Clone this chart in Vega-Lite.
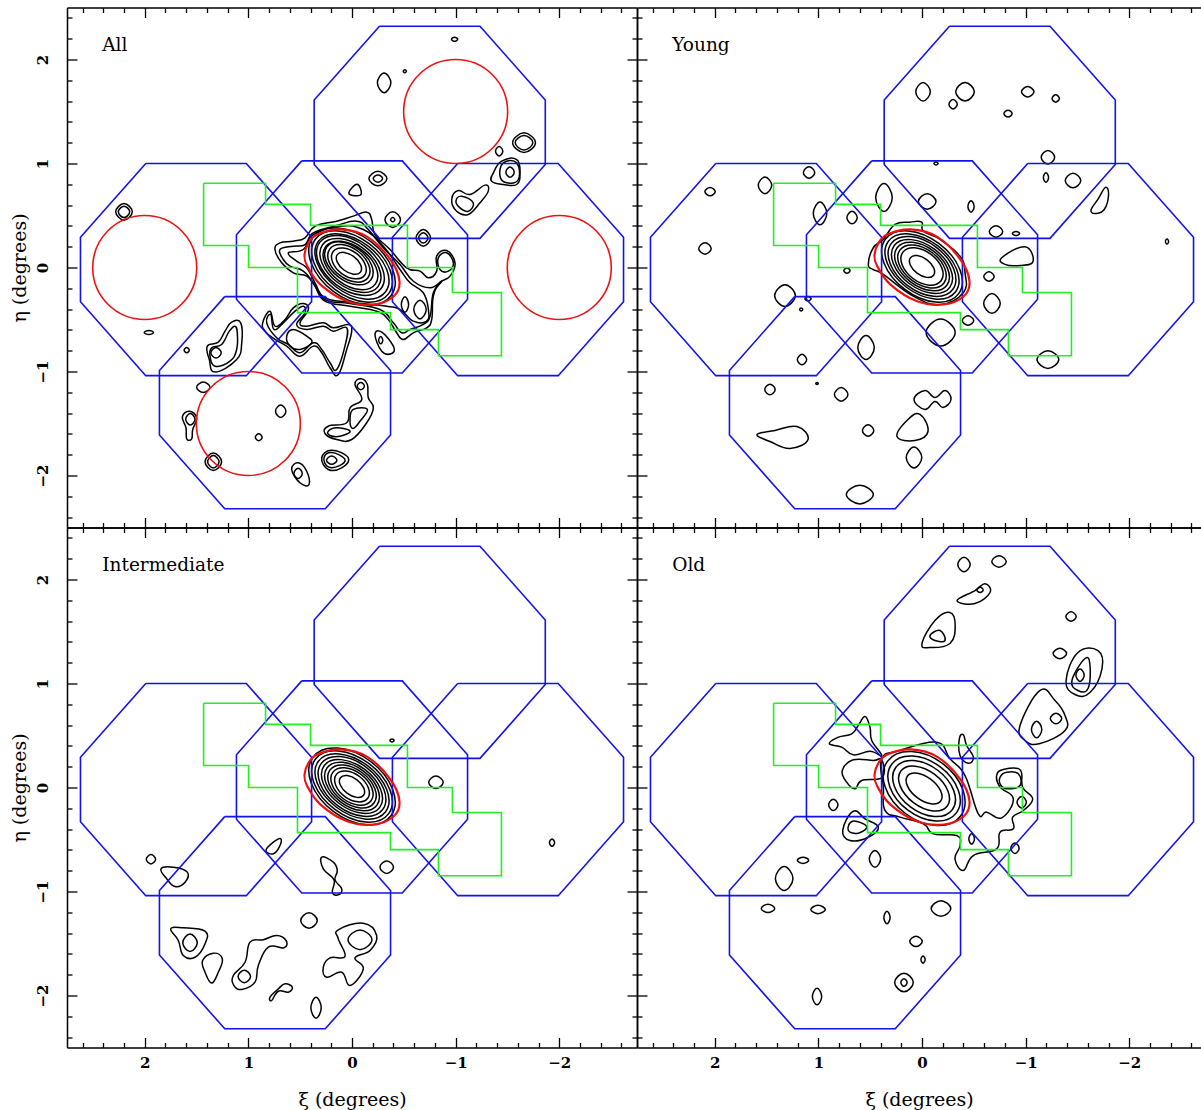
{"$schema":"https://vega.github.io/schema/vega-lite/v6.json","padding":{"left":10,"top":6.5,"right":0,"bottom":0},"spacing":0,"bounds":"flush","columns":2,
"config":{"view":{"stroke":null},"axis":{"grid":false,"domainColor":"black","domainWidth":1.5,"tickColor":"black","tickWidth":1.3,"labelColor":"black","titleColor":"black","labelFont":"DejaVu Serif","titleFont":"DejaVu Serif","labelFontSize":15,"titleFontSize":19,"titleFontWeight":"normal","labelFontWeight":"bold","format":".0f"}},
"datasets":{
"o":[{"c":1,"x":-0.265,"y":2.32},{"c":1,"x":-1.235,"y":2.32},{"c":1,"x":-1.865,"y":1.61},{"c":1,"x":-1.865,"y":0.99},{"c":1,"x":-1.235,"y":0.28},{"c":1,"x":-0.265,"y":0.28},{"c":1,"x":0.365,"y":0.99},{"c":1,"x":0.365,"y":1.61},{"c":1,"x":-0.265,"y":2.32},
{"c":2,"x":1.99,"y":1},{"c":2,"x":1.02,"y":1},{"c":2,"x":0.39,"y":0.29},{"c":2,"x":0.39,"y":-0.33},{"c":2,"x":1.02,"y":-1.04},{"c":2,"x":1.99,"y":-1.04},{"c":2,"x":2.62,"y":-0.33},{"c":2,"x":2.62,"y":0.29},{"c":2,"x":1.99,"y":1},
{"c":3,"x":0.485,"y":1.025},{"c":3,"x":-0.485,"y":1.025},{"c":3,"x":-1.115,"y":0.315},{"c":3,"x":-1.115,"y":-0.305},{"c":3,"x":-0.485,"y":-1.015},{"c":3,"x":0.485,"y":-1.015},{"c":3,"x":1.115,"y":-0.305},{"c":3,"x":1.115,"y":0.315},{"c":3,"x":0.485,"y":1.025},
{"c":4,"x":-1.02,"y":1},{"c":4,"x":-1.99,"y":1},{"c":4,"x":-2.62,"y":0.29},{"c":4,"x":-2.62,"y":-0.33},{"c":4,"x":-1.99,"y":-1.04},{"c":4,"x":-1.02,"y":-1.04},{"c":4,"x":-0.39,"y":-0.33},{"c":4,"x":-0.39,"y":0.29},{"c":4,"x":-1.02,"y":1},
{"c":5,"x":1.228,"y":-0.28},{"c":5,"x":0.258,"y":-0.28},{"c":5,"x":-0.372,"y":-0.99},{"c":5,"x":-0.372,"y":-1.61},{"c":5,"x":0.258,"y":-2.32},{"c":5,"x":1.228,"y":-2.32},{"c":5,"x":1.858,"y":-1.61},{"c":5,"x":1.858,"y":-0.99},{"c":5,"x":1.228,"y":-0.28}],
"g":[{"c":1,"x":1.432,"y":0.81},{"c":1,"x":0.834,"y":0.81},{"c":1,"x":0.834,"y":0.607},{"c":1,"x":0.4,"y":0.607},{"c":1,"x":0.4,"y":0.405},{"c":1,"x":-0.535,"y":0.405},{"c":1,"x":-0.535,"y":0},{"c":1,"x":-0.969,"y":0},{"c":1,"x":-0.969,"y":-0.241},{"c":1,"x":-1.442,"y":-0.241},{"c":1,"x":-1.442,"y":-0.848},{"c":1,"x":-0.834,"y":-0.848},{"c":1,"x":-0.834,"y":-0.597},{"c":1,"x":-0.371,"y":-0.597},{"c":1,"x":-0.371,"y":-0.434},{"c":1,"x":0.526,"y":-0.434},{"c":1,"x":0.526,"y":0},{"c":1,"x":0.998,"y":0},{"c":1,"x":0.998,"y":0.212},{"c":1,"x":1.432,"y":0.212},{"c":1,"x":1.432,"y":0.81}],
"e":[{"c":1,"x":0.458,"y":0.125},{"c":1,"x":0.42,"y":0.235},{"c":1,"x":0.33,"y":0.32},{"c":1,"x":0.111,"y":0.366},{"c":1,"x":-0.147,"y":0.295},{"c":1,"x":-0.371,"y":0.077},{"c":1,"x":-0.458,"y":-0.132},{"c":1,"x":-0.403,"y":-0.276},{"c":1,"x":-0.21,"y":-0.356},{"c":1,"x":0.046,"y":-0.325},{"c":1,"x":0.304,"y":-0.164},{"c":1,"x":0.432,"y":0.013}],
"r":[{"x":2,"y":0},{"x":-1,"y":1.5},{"x":1,"y":-1.5},{"x":-2,"y":0}],
"a":[
{"c":1,"x":-0.082,"y":-0.044},{"c":1,"x":-0.083,"y":0.026},{"c":1,"x":-0.018,"y":0.104},{"c":1,"x":0.075,"y":0.145},{"c":1,"x":0.142,"y":0.124},{"c":1,"x":0.143,"y":0.054},{"c":1,"x":0.078,"y":-0.024},{"c":1,"x":-0.015,"y":-0.065},
{"c":2,"x":-0.122,"y":-0.074},{"c":2,"x":-0.128,"y":0.027},{"c":2,"x":-0.042,"y":0.136},{"c":2,"x":0.087,"y":0.188},{"c":2,"x":0.182,"y":0.154},{"c":2,"x":0.188,"y":0.053},{"c":2,"x":0.102,"y":-0.056},{"c":2,"x":-0.027,"y":-0.108},
{"c":3,"x":-0.154,"y":-0.098},{"c":3,"x":-0.162,"y":0.024},{"c":3,"x":-0.057,"y":0.156},{"c":3,"x":0.099,"y":0.22},{"c":3,"x":0.214,"y":0.178},{"c":3,"x":0.222,"y":0.056},{"c":3,"x":0.117,"y":-0.076},{"c":3,"x":-0.039,"y":-0.14},
{"c":4,"x":-0.182,"y":-0.119},{"c":4,"x":-0.19,"y":0.021},{"c":4,"x":-0.069,"y":0.172},{"c":4,"x":0.11,"y":0.246},{"c":4,"x":0.242,"y":0.199},{"c":4,"x":0.25,"y":0.059},{"c":4,"x":0.129,"y":-0.092},{"c":4,"x":-0.05,"y":-0.166},
{"c":5,"x":-0.225,"y":-0.16},{"c":5,"x":-0.233,"y":-0.003},{"c":5,"x":-0.096,"y":0.168},{"c":5,"x":0.106,"y":0.252},{"c":5,"x":0.255,"y":0.2},{"c":5,"x":0.263,"y":0.043},{"c":5,"x":0.126,"y":-0.128},{"c":5,"x":-0.076,"y":-0.212},
{"c":6,"x":-0.253,"y":-0.181},{"c":6,"x":-0.261,"y":-0.006},{"c":6,"x":-0.108,"y":0.184},{"c":6,"x":0.118,"y":0.278},{"c":6,"x":0.283,"y":0.221},{"c":6,"x":0.291,"y":0.046},{"c":6,"x":0.138,"y":-0.144},{"c":6,"x":-0.088,"y":-0.238},
{"c":7,"x":-0.281,"y":-0.202},{"c":7,"x":-0.292,"y":-0.007},{"c":7,"x":-0.123,"y":0.204},{"c":7,"x":0.127,"y":0.307},{"c":7,"x":0.311,"y":0.242},{"c":7,"x":0.322,"y":0.047},{"c":7,"x":0.153,"y":-0.164},{"c":7,"x":-0.097,"y":-0.267},
{"c":8,"x":-0.324,"y":-0.233},{"c":8,"x":-0.335,"y":-0.02},{"c":8,"x":-0.15,"y":0.21},{"c":8,"x":0.123,"y":0.323},{"c":8,"x":0.324,"y":0.253},{"c":8,"x":0.335,"y":0.04},{"c":8,"x":0.15,"y":-0.19},{"c":8,"x":-0.123,"y":-0.303},
{"c":9,"x":-0.352,"y":-0.254},{"c":9,"x":-0.366,"y":-0.021},{"c":9,"x":-0.165,"y":0.23},{"c":9,"x":0.132,"y":0.352},{"c":9,"x":0.352,"y":0.274},{"c":9,"x":0.366,"y":0.041},{"c":9,"x":0.165,"y":-0.21},{"c":9,"x":-0.132,"y":-0.332},
{"c":10,"x":-0.376,"y":-0.272},{"c":10,"x":-0.393,"y":-0.02},{"c":10,"x":-0.18,"y":0.25},{"c":10,"x":0.139,"y":0.379},{"c":10,"x":0.376,"y":0.292},{"c":10,"x":0.393,"y":0.04},{"c":10,"x":0.18,"y":-0.23},{"c":10,"x":-0.139,"y":-0.359},
{"c":11,"x":0.743,"y":0.173},{"c":11,"x":0.695,"y":0.237},{"c":11,"x":0.566,"y":0.253},{"c":11,"x":0.453,"y":0.285},{"c":11,"x":0.357,"y":0.397},{"c":11,"x":0.148,"y":0.445},{"c":11,"x":-0.013,"y":0.494},{"c":11,"x":-0.142,"y":0.532},{"c":11,"x":-0.19,"y":0.462},{"c":11,"x":-0.222,"y":0.317},{"c":11,"x":-0.367,"y":0.173},{"c":11,"x":-0.527,"y":-0.003},{"c":11,"x":-0.656,"y":-0.035},{"c":11,"x":-0.737,"y":-0.099},{"c":11,"x":-0.817,"y":-0.035},{"c":11,"x":-0.817,"y":0.109},{"c":11,"x":-0.913,"y":0.163},{"c":11,"x":-0.994,"y":0.045},{"c":11,"x":-0.946,"y":-0.083},{"c":11,"x":-0.849,"y":-0.147},{"c":11,"x":-0.785,"y":-0.276},{"c":11,"x":-0.769,"y":-0.5},{"c":11,"x":-0.72,"y":-0.58},{"c":11,"x":-0.592,"y":-0.628},{"c":11,"x":-0.495,"y":-0.692},{"c":11,"x":-0.431,"y":-0.628},{"c":11,"x":-0.35,"y":-0.5},{"c":11,"x":-0.238,"y":-0.42},{"c":11,"x":0.019,"y":-0.372},{"c":11,"x":0.261,"y":-0.324},{"c":11,"x":0.357,"y":-0.18},{"c":11,"x":0.437,"y":-0.084},{"c":11,"x":0.566,"y":-0.051},{"c":11,"x":0.678,"y":0.045},
{"c":12,"x":0.695,"y":0.173},{"c":12,"x":0.566,"y":0.205},{"c":12,"x":0.453,"y":0.221},{"c":12,"x":0.373,"y":0.333},{"c":12,"x":0.148,"y":0.404},{"c":12,"x":-0.045,"y":0.445},{"c":12,"x":-0.157,"y":0.365},{"c":12,"x":-0.302,"y":0.189},{"c":12,"x":-0.463,"y":0.029},{"c":12,"x":-0.592,"y":-0.132},{"c":12,"x":-0.753,"y":-0.195},{"c":12,"x":-0.865,"y":-0.132},{"c":12,"x":-0.785,"y":-0.243},{"c":12,"x":-0.753,"y":-0.468},{"c":12,"x":-0.688,"y":-0.548},{"c":12,"x":-0.56,"y":-0.596},{"c":12,"x":-0.479,"y":-0.628},{"c":12,"x":-0.399,"y":-0.532},{"c":12,"x":-0.27,"y":-0.404},{"c":12,"x":0.019,"y":-0.346},{"c":12,"x":0.261,"y":-0.308},{"c":12,"x":0.373,"y":-0.147},{"c":12,"x":0.47,"y":-0.035},{"c":12,"x":0.598,"y":0.013},{"c":12,"x":0.663,"y":0.077},
{"c":13,"x":0.614,"y":0.141},{"c":13,"x":0.47,"y":0.173},{"c":13,"x":0.373,"y":0.317},{"c":13,"x":0.116,"y":0.397},{"c":13,"x":-0.109,"y":0.365},{"c":13,"x":-0.302,"y":0.205},{"c":13,"x":-0.463,"y":-0.019},{"c":13,"x":-0.56,"y":-0.147},{"c":13,"x":-0.688,"y":-0.243},{"c":13,"x":-0.737,"y":-0.404},{"c":13,"x":-0.72,"y":-0.516},{"c":13,"x":-0.592,"y":-0.516},{"c":13,"x":-0.463,"y":-0.404},{"c":13,"x":-0.335,"y":-0.372},{"c":13,"x":0.019,"y":-0.334},{"c":13,"x":0.261,"y":-0.291},{"c":13,"x":0.357,"y":-0.147},{"c":13,"x":0.437,"y":-0.003},{"c":13,"x":0.534,"y":0.061},
{"c":14,"x":-0.833,"y":0.093},{"c":14,"x":-0.913,"y":0.141},{"c":14,"x":-0.978,"y":0.045},{"c":14,"x":-0.93,"y":-0.035},{"c":14,"x":-0.849,"y":-0.019},
{"c":15,"x":-0.476,"y":-0.356},{"c":15,"x":-0.511,"y":-0.281},{"c":15,"x":-0.546,"y":-0.356},{"c":15,"x":-0.511,"y":-0.431},
{"c":16,"x":-0.596,"y":-0.404},{"c":16,"x":-0.656,"y":-0.314},{"c":16,"x":-0.716,"y":-0.404},{"c":16,"x":-0.656,"y":-0.494},
{"c":17,"x":0.862,"y":-0.532},{"c":17,"x":0.791,"y":-0.42},{"c":17,"x":0.743,"y":-0.564},{"c":17,"x":0.646,"y":-0.5},{"c":17,"x":0.566,"y":-0.388},{"c":17,"x":0.47,"y":-0.346},{"c":17,"x":0.421,"y":-0.404},{"c":17,"x":0.502,"y":-0.532},{"c":17,"x":0.437,"y":-0.564},{"c":17,"x":0.277,"y":-0.532},{"c":17,"x":0.18,"y":-0.58},{"c":17,"x":0.036,"y":-0.548},{"c":17,"x":0.003,"y":-0.612},{"c":17,"x":0.051,"y":-0.788},{"c":17,"x":0.132,"y":-1.029},{"c":17,"x":0.212,"y":-0.964},{"c":17,"x":0.292,"y":-0.82},{"c":17,"x":0.373,"y":-0.756},{"c":17,"x":0.502,"y":-0.853},{"c":17,"x":0.63,"y":-0.756},{"c":17,"x":0.743,"y":-0.692},{"c":17,"x":0.839,"y":-0.612},
{"c":18,"x":0.823,"y":-0.532},{"c":18,"x":0.784,"y":-0.452},{"c":18,"x":0.753,"y":-0.596},{"c":18,"x":0.663,"y":-0.532},{"c":18,"x":0.55,"y":-0.42},{"c":18,"x":0.47,"y":-0.372},{"c":18,"x":0.453,"y":-0.436},{"c":18,"x":0.534,"y":-0.548},{"c":18,"x":0.437,"y":-0.596},{"c":18,"x":0.277,"y":-0.564},{"c":18,"x":0.18,"y":-0.612},{"c":18,"x":0.051,"y":-0.58},{"c":18,"x":0.068,"y":-0.756},{"c":18,"x":0.148,"y":-0.981},{"c":18,"x":0.212,"y":-0.916},{"c":18,"x":0.292,"y":-0.788},{"c":18,"x":0.373,"y":-0.724},{"c":18,"x":0.502,"y":-0.82},{"c":18,"x":0.614,"y":-0.74},{"c":18,"x":0.727,"y":-0.676},
{"c":19,"x":0.63,"y":-0.66},{"c":19,"x":0.566,"y":-0.596},{"c":19,"x":0.437,"y":-0.66},{"c":19,"x":0.389,"y":-0.724},{"c":19,"x":0.502,"y":-0.788},{"c":19,"x":0.598,"y":-0.756},
{"c":20,"x":-0.222,"y":-0.644},{"c":20,"x":-0.287,"y":-0.622},{"c":20,"x":-0.399,"y":-0.756},{"c":20,"x":-0.383,"y":-0.827},{"c":20,"x":-0.287,"y":-0.805},
{"c":21,"x":-0.257,"y":-0.699},{"c":21,"x":-0.277,"y":-0.664},{"c":21,"x":-0.297,"y":-0.699},{"c":21,"x":-0.277,"y":-0.734},
{"c":22,"x":-0.96,"y":2.195},{"c":22,"x":-0.99,"y":2.215},{"c":22,"x":-1.02,"y":2.195},{"c":22,"x":-0.99,"y":2.175},
{"c":23,"x":-0.495,"y":1.887},{"c":23,"x":-0.51,"y":1.902},{"c":23,"x":-0.525,"y":1.887},{"c":23,"x":-0.51,"y":1.872},
{"c":24,"x":-0.245,"y":1.776},{"c":24,"x":-0.31,"y":1.871},{"c":24,"x":-0.375,"y":1.776},{"c":24,"x":-0.31,"y":1.681},
{"c":25,"x":-1.55,"y":1.2},{"c":25,"x":-1.66,"y":1.295},{"c":25,"x":-1.77,"y":1.2},{"c":25,"x":-1.66,"y":1.105},
{"c":26,"x":-1.575,"y":1.2},{"c":26,"x":-1.66,"y":1.27},{"c":26,"x":-1.745,"y":1.2},{"c":26,"x":-1.66,"y":1.13},
{"c":27,"x":-1.385,"y":1.118},{"c":27,"x":-1.42,"y":1.163},{"c":27,"x":-1.455,"y":1.118},{"c":27,"x":-1.42,"y":1.073},
{"c":28,"x":-1.444,"y":1.022},{"c":28,"x":-1.589,"y":1.038},{"c":28,"x":-1.621,"y":0.91},{"c":28,"x":-1.589,"y":0.798},{"c":28,"x":-1.46,"y":0.798},{"c":28,"x":-1.348,"y":0.83},{"c":28,"x":-1.364,"y":0.91},
{"c":29,"x":-1.46,"y":1.006},{"c":29,"x":-1.589,"y":1.006},{"c":29,"x":-1.605,"y":0.846},{"c":29,"x":-1.492,"y":0.814},{"c":29,"x":-1.428,"y":0.878},
{"c":30,"x":-1.485,"y":0.917},{"c":30,"x":-1.525,"y":0.967},{"c":30,"x":-1.565,"y":0.917},{"c":30,"x":-1.525,"y":0.867},
{"c":31,"x":-0.962,"y":0.654},{"c":31,"x":-1.026,"y":0.74},{"c":31,"x":-1.139,"y":0.702},{"c":31,"x":-1.283,"y":0.792},{"c":31,"x":-1.315,"y":0.734},{"c":31,"x":-1.235,"y":0.622},{"c":31,"x":-1.122,"y":0.51},{"c":31,"x":-1.01,"y":0.541},
{"c":32,"x":-1.003,"y":0.638},{"c":32,"x":-1.058,"y":0.686},{"c":32,"x":-1.17,"y":0.622},{"c":32,"x":-1.122,"y":0.541},{"c":32,"x":-1.042,"y":0.574},
{"c":33,"x":-0.163,"y":0.855},{"c":33,"x":-0.25,"y":0.925},{"c":33,"x":-0.337,"y":0.855},{"c":33,"x":-0.25,"y":0.785},
{"c":34,"x":-0.205,"y":0.855},{"c":34,"x":-0.25,"y":0.89},{"c":34,"x":-0.295,"y":0.855},{"c":34,"x":-0.25,"y":0.82},
{"c":35,"x":-0.318,"y":0.46},{"c":35,"x":-0.393,"y":0.535},{"c":35,"x":-0.468,"y":0.46},{"c":35,"x":-0.393,"y":0.385},
{"c":36,"x":-0.373,"y":0.46},{"c":36,"x":-0.393,"y":0.48},{"c":36,"x":-0.413,"y":0.46},{"c":36,"x":-0.393,"y":0.44},
{"c":37,"x":-0.618,"y":0.285},{"c":37,"x":-0.688,"y":0.365},{"c":37,"x":-0.758,"y":0.285},{"c":37,"x":-0.688,"y":0.205},
{"c":38,"x":-0.643,"y":0.285},{"c":38,"x":-0.688,"y":0.335},{"c":38,"x":-0.733,"y":0.285},{"c":38,"x":-0.688,"y":0.235},
{"c":39,"x":0.03,"y":0.72},{"c":39,"x":-0.05,"y":0.8},{"c":39,"x":-0.09,"y":0.71},{"c":39,"x":-0.03,"y":0.69},
{"c":40,"x":2.28,"y":0.535},{"c":40,"x":2.2,"y":0.615},{"c":40,"x":2.12,"y":0.535},{"c":40,"x":2.2,"y":0.455},
{"c":41,"x":2.255,"y":0.535},{"c":41,"x":2.2,"y":0.59},{"c":41,"x":2.145,"y":0.535},{"c":41,"x":2.2,"y":0.48},
{"c":42,"x":2.005,"y":-0.625},{"c":42,"x":1.96,"y":-0.605},{"c":42,"x":1.915,"y":-0.625},{"c":42,"x":1.96,"y":-0.645},
{"c":43,"x":1.396,"y":-0.756},{"c":43,"x":1.29,"y":-0.718},{"c":43,"x":1.225,"y":-0.612},{"c":43,"x":1.161,"y":-0.526},{"c":43,"x":1.074,"y":-0.532},{"c":43,"x":1.064,"y":-0.724},{"c":43,"x":1.113,"y":-0.885},{"c":43,"x":1.322,"y":-1.006},{"c":43,"x":1.377,"y":-0.885},
{"c":44,"x":1.354,"y":-0.772},{"c":44,"x":1.258,"y":-0.74},{"c":44,"x":1.184,"y":-0.612},{"c":44,"x":1.129,"y":-0.564},{"c":44,"x":1.107,"y":-0.628},{"c":44,"x":1.113,"y":-0.788},{"c":44,"x":1.177,"y":-0.901},{"c":44,"x":1.322,"y":-0.949},{"c":44,"x":1.37,"y":-0.853},
{"c":45,"x":1.262,"y":-0.82},{"c":45,"x":1.312,"y":-0.77},{"c":45,"x":1.362,"y":-0.82},{"c":45,"x":1.312,"y":-0.87},
{"c":46,"x":1.57,"y":-0.795},{"c":46,"x":1.595,"y":-0.77},{"c":46,"x":1.62,"y":-0.795},{"c":46,"x":1.595,"y":-0.82},
{"c":47,"x":1.37,"y":-1.151},{"c":47,"x":1.435,"y":-1.101},{"c":47,"x":1.5,"y":-1.151},{"c":47,"x":1.435,"y":-1.201},
{"c":48,"x":1.637,"y":-1.436},{"c":48,"x":1.57,"y":-1.382},{"c":48,"x":1.499,"y":-1.445},{"c":48,"x":1.537,"y":-1.558},{"c":48,"x":1.547,"y":-1.647},{"c":48,"x":1.595,"y":-1.647},{"c":48,"x":1.602,"y":-1.541},
{"c":49,"x":1.515,"y":-1.46},{"c":49,"x":1.56,"y":-1.405},{"c":49,"x":1.605,"y":-1.46},{"c":49,"x":1.56,"y":-1.515},
{"c":50,"x":0.638,"y":-1.382},{"c":50,"x":0.688,"y":-1.322},{"c":50,"x":0.738,"y":-1.382},{"c":50,"x":0.688,"y":-1.442},
{"c":51,"x":0.867,"y":-1.632},{"c":51,"x":0.9,"y":-1.599},{"c":51,"x":0.933,"y":-1.632},{"c":51,"x":0.9,"y":-1.665},
{"c":52,"x":1.258,"y":-1.868},{"c":52,"x":1.338,"y":-1.783},{"c":52,"x":1.418,"y":-1.868},{"c":52,"x":1.338,"y":-1.953},
{"c":53,"x":1.283,"y":-1.868},{"c":53,"x":1.338,"y":-1.808},{"c":53,"x":1.393,"y":-1.868},{"c":53,"x":1.338,"y":-1.928},
{"c":54,"x":-0.029,"y":-1.125},{"c":54,"x":-0.084,"y":-1.07},{"c":54,"x":-0.148,"y":-1.125},{"c":54,"x":-0.157,"y":-1.253},{"c":54,"x":-0.206,"y":-1.349},{"c":54,"x":-0.142,"y":-1.493},{"c":54,"x":0.003,"y":-1.654},{"c":54,"x":0.148,"y":-1.654},{"c":54,"x":0.261,"y":-1.596},{"c":54,"x":0.229,"y":-1.526},{"c":54,"x":0.051,"y":-1.493},{"c":54,"x":0.019,"y":-1.349},{"c":54,"x":-0.094,"y":-1.269},
{"c":55,"x":-0.05,"y":-1.14},{"c":55,"x":-0.085,"y":-1.105},{"c":55,"x":-0.12,"y":-1.14},{"c":55,"x":-0.085,"y":-1.175},
{"c":56,"x":-0.013,"y":-1.365},{"c":56,"x":-0.148,"y":-1.365},{"c":56,"x":-0.077,"y":-1.478},{"c":56,"x":-0.007,"y":-1.548},{"c":56,"x":0.019,"y":-1.462},
{"c":57,"x":0.229,"y":-1.574},{"c":57,"x":0.148,"y":-1.541},{"c":57,"x":0.019,"y":-1.574},{"c":57,"x":0.116,"y":-1.622},{"c":57,"x":0.212,"y":-1.615},
{"c":58,"x":0.292,"y":-1.83},{"c":58,"x":0.196,"y":-1.757},{"c":58,"x":0.036,"y":-1.83},{"c":58,"x":0.1,"y":-1.926},{"c":58,"x":0.229,"y":-1.942},
{"c":59,"x":0.27,"y":-1.83},{"c":59,"x":0.196,"y":-1.78},{"c":59,"x":0.07,"y":-1.84},{"c":59,"x":0.12,"y":-1.905},{"c":59,"x":0.229,"y":-1.917},
{"c":60,"x":0.146,"y":-1.853},{"c":60,"x":0.196,"y":-1.813},{"c":60,"x":0.246,"y":-1.853},{"c":60,"x":0.196,"y":-1.893},
{"c":61,"x":0.582,"y":-1.942},{"c":61,"x":0.518,"y":-1.878},{"c":61,"x":0.437,"y":-1.959},{"c":61,"x":0.415,"y":-2.087},{"c":61,"x":0.502,"y":-2.07},
{"c":62,"x":0.48,"y":-1.98},{"c":62,"x":0.52,"y":-1.93},{"c":62,"x":0.56,"y":-1.98},{"c":62,"x":0.52,"y":-2.03}],
"b":[
{"c":1,"x":-0.112,"y":-0.074},{"c":1,"x":-0.113,"y":-0.004},{"c":1,"x":-0.048,"y":0.074},{"c":1,"x":0.045,"y":0.115},{"c":1,"x":0.112,"y":0.094},{"c":1,"x":0.113,"y":0.024},{"c":1,"x":0.048,"y":-0.054},{"c":1,"x":-0.045,"y":-0.095},
{"c":3,"x":-0.184,"y":-0.128},{"c":3,"x":-0.192,"y":-0.006},{"c":3,"x":-0.087,"y":0.126},{"c":3,"x":0.069,"y":0.19},{"c":3,"x":0.184,"y":0.148},{"c":3,"x":0.192,"y":0.026},{"c":3,"x":0.087,"y":-0.106},{"c":3,"x":-0.069,"y":-0.17},
{"c":4,"x":-0.212,"y":-0.149},{"c":4,"x":-0.22,"y":-0.009},{"c":4,"x":-0.099,"y":0.142},{"c":4,"x":0.08,"y":0.216},{"c":4,"x":0.212,"y":0.169},{"c":4,"x":0.22,"y":0.029},{"c":4,"x":0.099,"y":-0.122},{"c":4,"x":-0.08,"y":-0.196},
{"c":5,"x":-0.24,"y":-0.17},{"c":5,"x":-0.248,"y":-0.013},{"c":5,"x":-0.111,"y":0.158},{"c":5,"x":0.091,"y":0.242},{"c":5,"x":0.24,"y":0.19},{"c":5,"x":0.248,"y":0.033},{"c":5,"x":0.111,"y":-0.138},{"c":5,"x":-0.091,"y":-0.222},
{"c":6,"x":-0.268,"y":-0.191},{"c":6,"x":-0.276,"y":-0.016},{"c":6,"x":-0.123,"y":0.174},{"c":6,"x":0.103,"y":0.268},{"c":6,"x":0.268,"y":0.211},{"c":6,"x":0.276,"y":0.036},{"c":6,"x":0.123,"y":-0.154},{"c":6,"x":-0.103,"y":-0.248},
{"c":7,"x":-0.296,"y":-0.212},{"c":7,"x":-0.307,"y":-0.017},{"c":7,"x":-0.138,"y":0.194},{"c":7,"x":0.112,"y":0.297},{"c":7,"x":0.296,"y":0.232},{"c":7,"x":0.307,"y":0.037},{"c":7,"x":0.138,"y":-0.174},{"c":7,"x":-0.112,"y":-0.277},
{"c":8,"x":-0.324,"y":-0.233},{"c":8,"x":-0.335,"y":-0.02},{"c":8,"x":-0.15,"y":0.21},{"c":8,"x":0.123,"y":0.323},{"c":8,"x":0.324,"y":0.253},{"c":8,"x":0.335,"y":0.04},{"c":8,"x":0.15,"y":-0.19},{"c":8,"x":-0.123,"y":-0.303},
{"c":9,"x":-0.352,"y":-0.254},{"c":9,"x":-0.366,"y":-0.021},{"c":9,"x":-0.165,"y":0.23},{"c":9,"x":0.132,"y":0.352},{"c":9,"x":0.352,"y":0.274},{"c":9,"x":0.366,"y":0.041},{"c":9,"x":0.165,"y":-0.21},{"c":9,"x":-0.132,"y":-0.332},
{"c":10,"x":0.518,"y":0.03},{"c":10,"x":0.47,"y":0.19},{"c":10,"x":0.373,"y":0.27},{"c":10,"x":0.26,"y":0.414},{"c":10,"x":0.116,"y":0.436},{"c":10,"x":0.003,"y":0.436},{"c":10,"x":-0.013,"y":0.35},{"c":10,"x":-0.174,"y":0.27},{"c":10,"x":-0.366,"y":0.109},{"c":10,"x":-0.415,"y":-0.051},{"c":10,"x":-0.4,"y":-0.24},{"c":10,"x":-0.174,"y":-0.356},{"c":10,"x":0.084,"y":-0.276},{"c":10,"x":0.373,"y":-0.067},{"c":10,"x":0.47,"y":-0.02},
{"c":11,"x":0.06,"y":1.69},{"c":11,"x":-0.01,"y":1.78},{"c":11,"x":-0.08,"y":1.69},{"c":11,"x":-0.01,"y":1.6},
{"c":12,"x":-0.325,"y":1.69},{"c":12,"x":-0.415,"y":1.78},{"c":12,"x":-0.505,"y":1.69},{"c":12,"x":-0.415,"y":1.6},
{"c":13,"x":-0.26,"y":1.57},{"c":13,"x":-0.3,"y":1.615},{"c":13,"x":-0.34,"y":1.57},{"c":13,"x":-0.3,"y":1.525},
{"c":14,"x":-0.96,"y":1.69},{"c":14,"x":-1.02,"y":1.74},{"c":14,"x":-1.08,"y":1.69},{"c":14,"x":-1.02,"y":1.64},
{"c":15,"x":-1.255,"y":1.625},{"c":15,"x":-1.29,"y":1.66},{"c":15,"x":-1.325,"y":1.625},{"c":15,"x":-1.29,"y":1.59},
{"c":16,"x":-0.79,"y":1.48},{"c":16,"x":-0.83,"y":1.513},{"c":16,"x":-0.87,"y":1.48},{"c":16,"x":-0.83,"y":1.447},
{"c":17,"x":-1.15,"y":1.06},{"c":17,"x":-1.215,"y":1.125},{"c":17,"x":-1.28,"y":1.06},{"c":17,"x":-1.215,"y":0.995},
{"c":18,"x":-1.171,"y":0.865},{"c":18,"x":-1.196,"y":0.91},{"c":18,"x":-1.221,"y":0.865},{"c":18,"x":-1.196,"y":0.82},
{"c":19,"x":-1.382,"y":0.836},{"c":19,"x":-1.457,"y":0.906},{"c":19,"x":-1.532,"y":0.836},{"c":19,"x":-1.457,"y":0.766},
{"c":20,"x":-1.63,"y":0.55},{"c":20,"x":-1.7,"y":0.66},{"c":20,"x":-1.77,"y":0.77},{"c":20,"x":-1.8,"y":0.7},{"c":20,"x":-1.76,"y":0.56},{"c":20,"x":-1.68,"y":0.52},
{"c":21,"x":-2.349,"y":0.25},{"c":21,"x":-2.364,"y":0.275},{"c":21,"x":-2.379,"y":0.25},{"c":21,"x":-2.364,"y":0.225},
{"c":22,"x":1.035,"y":0.913},{"c":22,"x":1.09,"y":0.968},{"c":22,"x":1.145,"y":0.913},{"c":22,"x":1.09,"y":0.858},
{"c":23,"x":1.45,"y":0.79},{"c":23,"x":1.515,"y":0.87},{"c":23,"x":1.58,"y":0.79},{"c":23,"x":1.515,"y":0.71},
{"c":24,"x":1.995,"y":0.73},{"c":24,"x":2.045,"y":0.77},{"c":24,"x":2.095,"y":0.73},{"c":24,"x":2.045,"y":0.69},
{"c":25,"x":2.034,"y":0.183},{"c":25,"x":2.094,"y":0.238},{"c":25,"x":2.154,"y":0.183},{"c":25,"x":2.094,"y":0.128},
{"c":26,"x":0.919,"y":0.52},{"c":26,"x":0.984,"y":0.63},{"c":26,"x":1.049,"y":0.52},{"c":26,"x":0.984,"y":0.41},
{"c":27,"x":0.625,"y":0.48},{"c":27,"x":0.675,"y":0.54},{"c":27,"x":0.725,"y":0.48},{"c":27,"x":0.675,"y":0.42},
{"c":28,"x":0.287,"y":0.673},{"c":28,"x":0.367,"y":0.808},{"c":28,"x":0.447,"y":0.673},{"c":28,"x":0.367,"y":0.538},
{"c":29,"x":0.035,"y":0.635},{"c":29,"x":-0.05,"y":0.71},{"c":29,"x":-0.135,"y":0.635},{"c":29,"x":-0.05,"y":0.56},
{"c":30,"x":-0.115,"y":1},{"c":30,"x":-0.135,"y":1.015},{"c":30,"x":-0.155,"y":1},{"c":30,"x":-0.135,"y":0.985},
{"c":31,"x":-0.443,"y":0.587},{"c":31,"x":-0.473,"y":0.642},{"c":31,"x":-0.503,"y":0.587},{"c":31,"x":-0.473,"y":0.532},
{"c":32,"x":0.694,"y":-0.03},{"c":32,"x":0.724,"y":-0.005},{"c":32,"x":0.754,"y":-0.03},{"c":32,"x":0.724,"y":-0.055},
{"c":33,"x":-0.649,"y":0.346},{"c":33,"x":-0.714,"y":0.401},{"c":33,"x":-0.779,"y":0.346},{"c":33,"x":-0.714,"y":0.291},
{"c":34,"x":-0.772,"y":0.096},{"c":34,"x":-0.994,"y":0.2},{"c":34,"x":-1.071,"y":0.058},{"c":34,"x":-0.946,"y":0.019},{"c":34,"x":-0.8,"y":0.03},
{"c":35,"x":-0.872,"y":0.327},{"c":35,"x":-0.907,"y":0.347},{"c":35,"x":-0.942,"y":0.327},{"c":35,"x":-0.907,"y":0.307},
{"c":36,"x":-0.596,"y":-0.087},{"c":36,"x":-0.646,"y":-0.042},{"c":36,"x":-0.696,"y":-0.087},{"c":36,"x":-0.646,"y":-0.132},
{"c":37,"x":-0.595,"y":-0.346},{"c":37,"x":-0.675,"y":-0.251},{"c":37,"x":-0.755,"y":-0.346},{"c":37,"x":-0.675,"y":-0.441},
{"c":38,"x":-0.389,"y":-0.51},{"c":38,"x":-0.444,"y":-0.465},{"c":38,"x":-0.499,"y":-0.51},{"c":38,"x":-0.444,"y":-0.555},
{"c":39,"x":1.222,"y":-0.27},{"c":39,"x":1.322,"y":-0.165},{"c":39,"x":1.422,"y":-0.27},{"c":39,"x":1.322,"y":-0.375},
{"c":40,"x":-0.04,"y":-0.625},{"c":40,"x":-0.18,"y":-0.495},{"c":40,"x":-0.32,"y":-0.625},{"c":40,"x":-0.18,"y":-0.755},
{"c":41,"x":0.46,"y":-0.77},{"c":41,"x":0.54,"y":-0.655},{"c":41,"x":0.62,"y":-0.77},{"c":41,"x":0.54,"y":-0.885},
{"c":42,"x":-1.11,"y":-0.885},{"c":42,"x":-1.215,"y":-0.8},{"c":42,"x":-1.32,"y":-0.885},{"c":42,"x":-1.215,"y":-0.97},
{"c":43,"x":1.113,"y":-0.885},{"c":43,"x":1.158,"y":-0.835},{"c":43,"x":1.203,"y":-0.885},{"c":43,"x":1.158,"y":-0.935},
{"c":44,"x":1.417,"y":-1.173},{"c":44,"x":1.467,"y":-1.123},{"c":44,"x":1.517,"y":-1.173},{"c":44,"x":1.467,"y":-1.223},
{"c":45,"x":1.592,"y":-1.606},{"c":45,"x":1.418,"y":-1.567},{"c":45,"x":1.206,"y":-1.529},{"c":45,"x":1.1,"y":-1.654},{"c":45,"x":1.274,"y":-1.74},{"c":45,"x":1.467,"y":-1.673},
{"c":46,"x":0.715,"y":-1.22},{"c":46,"x":0.78,"y":-1.155},{"c":46,"x":0.845,"y":-1.22},{"c":46,"x":0.78,"y":-1.285},
{"c":47,"x":0.465,"y":-1.567},{"c":47,"x":0.52,"y":-1.512},{"c":47,"x":0.575,"y":-1.567},{"c":47,"x":0.52,"y":-1.622},
{"c":48,"x":0.47,"y":-2.183},{"c":48,"x":0.6,"y":-2.093},{"c":48,"x":0.73,"y":-2.183},{"c":48,"x":0.6,"y":-2.273},
{"c":49,"x":0.002,"y":-1.827},{"c":49,"x":0.077,"y":-1.727},{"c":49,"x":0.152,"y":-1.827},{"c":49,"x":0.077,"y":-1.927},
{"c":50,"x":0.241,"y":-1.625},{"c":50,"x":0.135,"y":-1.462},{"c":50,"x":0.02,"y":-1.413},{"c":50,"x":-0.058,"y":-1.577},{"c":50,"x":0.068,"y":-1.663},
{"c":51,"x":0.077,"y":-1.269},{"c":51,"x":-0.029,"y":-1.183},{"c":51,"x":-0.125,"y":-1.25},{"c":51,"x":-0.222,"y":-1.183},{"c":51,"x":-0.28,"y":-1.269},{"c":51,"x":-0.203,"y":-1.346},{"c":51,"x":-0.125,"y":-1.288},{"c":51,"x":-0.029,"y":-1.365},
{"c":52,"x":1.07,"y":-0.3},{"c":52,"x":1.1,"y":-0.28},{"c":52,"x":1.13,"y":-0.3},{"c":52,"x":1.1,"y":-0.32},
{"c":53,"x":1.151,"y":-0.404},{"c":53,"x":1.166,"y":-0.389},{"c":53,"x":1.181,"y":-0.404},{"c":53,"x":1.166,"y":-0.419},
{"c":54,"x":1.001,"y":-1.115},{"c":54,"x":1.013,"y":-1.105},{"c":54,"x":1.025,"y":-1.115},{"c":54,"x":1.013,"y":-1.125}],
"c":[
{"c":1,"x":-0.112,"y":-0.074},{"c":1,"x":-0.113,"y":-0.004},{"c":1,"x":-0.048,"y":0.074},{"c":1,"x":0.045,"y":0.115},{"c":1,"x":0.112,"y":0.094},{"c":1,"x":0.113,"y":0.024},{"c":1,"x":0.048,"y":-0.054},{"c":1,"x":-0.045,"y":-0.095},
{"c":2,"x":-0.152,"y":-0.104},{"c":2,"x":-0.158,"y":-0.003},{"c":2,"x":-0.072,"y":0.106},{"c":2,"x":0.057,"y":0.158},{"c":2,"x":0.152,"y":0.124},{"c":2,"x":0.158,"y":0.023},{"c":2,"x":0.072,"y":-0.086},{"c":2,"x":-0.057,"y":-0.138},
{"c":3,"x":-0.184,"y":-0.128},{"c":3,"x":-0.192,"y":-0.006},{"c":3,"x":-0.087,"y":0.126},{"c":3,"x":0.069,"y":0.19},{"c":3,"x":0.184,"y":0.148},{"c":3,"x":0.192,"y":0.026},{"c":3,"x":0.087,"y":-0.106},{"c":3,"x":-0.069,"y":-0.17},
{"c":4,"x":-0.212,"y":-0.149},{"c":4,"x":-0.22,"y":-0.009},{"c":4,"x":-0.099,"y":0.142},{"c":4,"x":0.08,"y":0.216},{"c":4,"x":0.212,"y":0.169},{"c":4,"x":0.22,"y":0.029},{"c":4,"x":0.099,"y":-0.122},{"c":4,"x":-0.08,"y":-0.196},
{"c":5,"x":-0.24,"y":-0.17},{"c":5,"x":-0.248,"y":-0.013},{"c":5,"x":-0.111,"y":0.158},{"c":5,"x":0.091,"y":0.242},{"c":5,"x":0.24,"y":0.19},{"c":5,"x":0.248,"y":0.033},{"c":5,"x":0.111,"y":-0.138},{"c":5,"x":-0.091,"y":-0.222},
{"c":6,"x":-0.268,"y":-0.191},{"c":6,"x":-0.276,"y":-0.016},{"c":6,"x":-0.123,"y":0.174},{"c":6,"x":0.103,"y":0.268},{"c":6,"x":0.268,"y":0.211},{"c":6,"x":0.276,"y":0.036},{"c":6,"x":0.123,"y":-0.154},{"c":6,"x":-0.103,"y":-0.248},
{"c":7,"x":-0.296,"y":-0.212},{"c":7,"x":-0.307,"y":-0.017},{"c":7,"x":-0.138,"y":0.194},{"c":7,"x":0.112,"y":0.297},{"c":7,"x":0.296,"y":0.232},{"c":7,"x":0.307,"y":0.037},{"c":7,"x":0.138,"y":-0.174},{"c":7,"x":-0.112,"y":-0.277},
{"c":8,"x":-0.324,"y":-0.233},{"c":8,"x":-0.335,"y":-0.02},{"c":8,"x":-0.15,"y":0.21},{"c":8,"x":0.123,"y":0.323},{"c":8,"x":0.324,"y":0.253},{"c":8,"x":0.335,"y":0.04},{"c":8,"x":0.15,"y":-0.19},{"c":8,"x":-0.123,"y":-0.303},
{"c":9,"x":-0.352,"y":-0.254},{"c":9,"x":-0.366,"y":-0.021},{"c":9,"x":-0.165,"y":0.23},{"c":9,"x":0.132,"y":0.352},{"c":9,"x":0.352,"y":0.274},{"c":9,"x":0.366,"y":0.041},{"c":9,"x":0.165,"y":-0.21},{"c":9,"x":-0.132,"y":-0.332},
{"c":10,"x":-0.376,"y":-0.272},{"c":10,"x":-0.393,"y":-0.02},{"c":10,"x":-0.18,"y":0.25},{"c":10,"x":0.139,"y":0.379},{"c":10,"x":0.376,"y":0.292},{"c":10,"x":0.393,"y":0.04},{"c":10,"x":0.18,"y":-0.23},{"c":10,"x":-0.139,"y":-0.359},
{"c":11,"x":-0.366,"y":0.452},{"c":11,"x":-0.386,"y":0.467},{"c":11,"x":-0.406,"y":0.452},{"c":11,"x":-0.386,"y":0.437},
{"c":12,"x":-0.74,"y":0.05},{"c":12,"x":-0.81,"y":0.11},{"c":12,"x":-0.88,"y":0.05},{"c":12,"x":-0.81,"y":-0.01},
{"c":13,"x":-1.905,"y":-0.53},{"c":13,"x":-1.93,"y":-0.495},{"c":13,"x":-1.955,"y":-0.53},{"c":13,"x":-1.93,"y":-0.565},
{"c":14,"x":1.895,"y":-0.69},{"c":14,"x":1.94,"y":-0.645},{"c":14,"x":1.985,"y":-0.69},{"c":14,"x":1.94,"y":-0.735},
{"c":15,"x":1.843,"y":-0.782},{"c":15,"x":1.724,"y":-0.766},{"c":15,"x":1.589,"y":-0.814},{"c":15,"x":1.611,"y":-0.91},{"c":15,"x":1.708,"y":-0.952},{"c":15,"x":1.788,"y":-0.878},
{"c":16,"x":0.83,"y":-0.606},{"c":16,"x":0.759,"y":-0.526},{"c":16,"x":0.688,"y":-0.493},{"c":16,"x":0.702,"y":-0.574},{"c":16,"x":0.759,"y":-0.638},
{"c":17,"x":0.292,"y":-0.67},{"c":17,"x":0.18,"y":-0.718},{"c":17,"x":0.142,"y":-0.798},{"c":17,"x":0.164,"y":-0.888},{"c":17,"x":0.099,"y":-0.974},{"c":17,"x":0.132,"y":-1.032},{"c":17,"x":0.19,"y":-1.007},{"c":17,"x":0.174,"y":-0.888},{"c":17,"x":0.277,"y":-0.782},
{"c":18,"x":-0.27,"y":-0.766},{"c":18,"x":-0.335,"y":-0.706},{"c":18,"x":-0.4,"y":-0.766},{"c":18,"x":-0.335,"y":-0.826},
{"c":19,"x":0.335,"y":-1.279},{"c":19,"x":0.415,"y":-1.204},{"c":19,"x":0.495,"y":-1.279},{"c":19,"x":0.415,"y":-1.354},
{"c":20,"x":1.749,"y":-1.359},{"c":20,"x":1.628,"y":-1.349},{"c":20,"x":1.418,"y":-1.382},{"c":20,"x":1.418,"y":-1.503},{"c":20,"x":1.515,"y":-1.632},{"c":20,"x":1.628,"y":-1.615},{"c":20,"x":1.676,"y":-1.471},
{"c":21,"x":1.493,"y":-1.493},{"c":21,"x":1.563,"y":-1.408},{"c":21,"x":1.633,"y":-1.493},{"c":21,"x":1.563,"y":-1.578},
{"c":22,"x":1.441,"y":-1.663},{"c":22,"x":1.338,"y":-1.593},{"c":22,"x":1.251,"y":-1.647},{"c":22,"x":1.29,"y":-1.776},{"c":22,"x":1.354,"y":-1.881},{"c":22,"x":1.418,"y":-1.776},
{"c":23,"x":1.145,"y":-1.808},{"c":23,"x":1.032,"y":-1.68},{"c":23,"x":0.984,"y":-1.487},{"c":23,"x":0.856,"y":-1.464},{"c":23,"x":0.727,"y":-1.423},{"c":23,"x":0.637,"y":-1.471},{"c":23,"x":0.656,"y":-1.541},{"c":23,"x":0.807,"y":-1.535},{"c":23,"x":0.904,"y":-1.712},{"c":23,"x":0.936,"y":-1.872},{"c":23,"x":1.064,"y":-1.942},{"c":23,"x":1.139,"y":-1.904},
{"c":24,"x":0.979,"y":-1.817},{"c":24,"x":1.039,"y":-1.757},{"c":24,"x":1.099,"y":-1.817},{"c":24,"x":1.039,"y":-1.877},
{"c":25,"x":0.791,"y":-2.016},{"c":25,"x":0.711,"y":-1.936},{"c":25,"x":0.646,"y":-1.888},{"c":25,"x":0.576,"y":-1.92},{"c":25,"x":0.615,"y":-1.968},{"c":25,"x":0.711,"y":-1.959},{"c":25,"x":0.775,"y":-2.048},
{"c":26,"x":0.297,"y":-2.118},{"c":26,"x":0.347,"y":-2.018},{"c":26,"x":0.397,"y":-2.118},{"c":26,"x":0.347,"y":-2.218},
{"c":27,"x":0.132,"y":-1.368},{"c":27,"x":-0.109,"y":-1.305},{"c":27,"x":-0.238,"y":-1.423},{"c":27,"x":-0.174,"y":-1.567},{"c":27,"x":-0.029,"y":-1.638},{"c":27,"x":-0.109,"y":-1.743},{"c":27,"x":0.019,"y":-1.904},{"c":27,"x":0.099,"y":-1.776},{"c":27,"x":0.244,"y":-1.824},{"c":27,"x":0.277,"y":-1.728},{"c":27,"x":0.212,"y":-1.638},{"c":27,"x":0.068,"y":-1.625},{"c":27,"x":0.132,"y":-1.455},
{"c":28,"x":0.038,"y":-1.464},{"c":28,"x":-0.077,"y":-1.369},{"c":28,"x":-0.192,"y":-1.464},{"c":28,"x":-0.077,"y":-1.559}],
"d":[
{"c":1,"x":-0.18,"y":-0.13},{"c":1,"x":-0.18,"y":-0.033},{"c":1,"x":-0.086,"y":0.078},{"c":1,"x":0.046,"y":0.137},{"c":1,"x":0.14,"y":0.11},{"c":1,"x":0.14,"y":0.013},{"c":1,"x":0.046,"y":-0.098},{"c":1,"x":-0.086,"y":-0.157},
{"c":2,"x":-0.244,"y":-0.178},{"c":2,"x":-0.25,"y":-0.033},{"c":2,"x":-0.122,"y":0.126},{"c":2,"x":0.066,"y":0.205},{"c":2,"x":0.204,"y":0.158},{"c":2,"x":0.21,"y":0.013},{"c":2,"x":0.082,"y":-0.146},{"c":2,"x":-0.106,"y":-0.225},
{"c":3,"x":-0.292,"y":-0.214},{"c":3,"x":-0.306,"y":-0.03},{"c":3,"x":-0.152,"y":0.166},{"c":3,"x":0.079,"y":0.259},{"c":3,"x":0.252,"y":0.194},{"c":3,"x":0.266,"y":0.01},{"c":3,"x":0.112,"y":-0.186},{"c":3,"x":-0.119,"y":-0.279},
{"c":4,"x":-0.332,"y":-0.244},{"c":4,"x":-0.351,"y":-0.028},{"c":4,"x":-0.176,"y":0.198},{"c":4,"x":0.09,"y":0.302},{"c":4,"x":0.292,"y":0.224},{"c":4,"x":0.311,"y":0.008},{"c":4,"x":0.136,"y":-0.218},{"c":4,"x":-0.13,"y":-0.322},
{"c":5,"x":-0.372,"y":-0.274},{"c":5,"x":-0.396,"y":-0.027},{"c":5,"x":-0.2,"y":0.23},{"c":5,"x":0.102,"y":0.346},{"c":5,"x":0.332,"y":0.254},{"c":5,"x":0.356,"y":0.007},{"c":5,"x":0.16,"y":-0.25},{"c":5,"x":-0.142,"y":-0.366},
{"c":6,"x":0.389,"y":0.276},{"c":6,"x":0.212,"y":0.356},{"c":6,"x":-0.142,"y":0.436},{"c":6,"x":-0.27,"y":0.276},{"c":6,"x":-0.415,"y":0.115},{"c":6,"x":-0.543,"y":-0.253},{"c":6,"x":-0.624,"y":-0.237},{"c":6,"x":-0.769,"y":-0.292},{"c":6,"x":-0.881,"y":-0.109},{"c":6,"x":-0.753,"y":0.003},{"c":6,"x":-0.72,"y":0.115},{"c":6,"x":-0.785,"y":0.173},{"c":6,"x":-0.946,"y":0.17},{"c":6,"x":-0.971,"y":0.003},{"c":6,"x":-1.068,"y":-0.109},{"c":6,"x":-0.978,"y":-0.221},{"c":6,"x":-0.875,"y":-0.285},{"c":6,"x":-0.881,"y":-0.397},{"c":6,"x":-0.753,"y":-0.43},{"c":6,"x":-0.72,"y":-0.59},{"c":6,"x":-0.495,"y":-0.654},{"c":6,"x":-0.399,"y":-0.798},{"c":6,"x":-0.318,"y":-0.686},{"c":6,"x":-0.367,"y":-0.558},{"c":6,"x":-0.335,"y":-0.462},{"c":6,"x":-0.109,"y":-0.446},{"c":6,"x":-0.013,"y":-0.349},{"c":6,"x":0.212,"y":-0.285},{"c":6,"x":0.357,"y":-0.221},{"c":6,"x":0.373,"y":0.003},
{"c":7,"x":-0.753,"y":0.099},{"c":7,"x":-0.817,"y":0.147},{"c":7,"x":-0.929,"y":0.132},{"c":7,"x":-0.946,"y":0.019},{"c":7,"x":-0.833,"y":-0.013},{"c":7,"x":-0.762,"y":0.019},
{"c":8,"x":-0.917,"y":-0.141},{"c":8,"x":-0.962,"y":-0.086},{"c":8,"x":-1.007,"y":-0.141},{"c":8,"x":-0.962,"y":-0.196},
{"c":9,"x":-0.452,"y":-0.494},{"c":9,"x":-0.479,"y":-0.444},{"c":9,"x":-0.506,"y":-0.494},{"c":9,"x":-0.479,"y":-0.544},
{"c":10,"x":-0.857,"y":-0.584},{"c":10,"x":-0.897,"y":-0.534},{"c":10,"x":-0.937,"y":-0.584},{"c":10,"x":-0.897,"y":-0.634},
{"c":11,"x":-0.36,"y":0.468},{"c":11,"x":-0.399,"y":0.507},{"c":11,"x":-0.431,"y":0.404},{"c":11,"x":-0.495,"y":0.291},{"c":11,"x":-0.447,"y":0.234},{"c":11,"x":-0.367,"y":0.308},
{"c":12,"x":0.894,"y":0.42},{"c":12,"x":0.807,"y":0.484},{"c":12,"x":0.678,"y":0.516},{"c":12,"x":0.615,"y":0.596},{"c":12,"x":0.55,"y":0.683},{"c":12,"x":0.502,"y":0.58},{"c":12,"x":0.485,"y":0.452},{"c":12,"x":0.389,"y":0.308},{"c":12,"x":0.502,"y":0.349},{"c":12,"x":0.663,"y":0.314},{"c":12,"x":0.775,"y":0.388},
{"c":13,"x":0.769,"y":0.163},{"c":13,"x":0.663,"y":0.266},{"c":13,"x":0.47,"y":0.26},{"c":13,"x":0.389,"y":0.266},{"c":13,"x":0.383,"y":0.099},{"c":13,"x":0.582,"y":0.067},{"c":13,"x":0.646,"y":-0.013},{"c":13,"x":0.727,"y":0.051},
{"c":14,"x":0.811,"y":-0.167},{"c":14,"x":0.856,"y":-0.112},{"c":14,"x":0.901,"y":-0.167},{"c":14,"x":0.856,"y":-0.222},
{"c":15,"x":0.765,"y":-0.413},{"c":15,"x":0.663,"y":-0.228},{"c":15,"x":0.55,"y":-0.301},{"c":15,"x":0.421,"y":-0.382},{"c":15,"x":0.518,"y":-0.478},{"c":15,"x":0.695,"y":-0.51},
{"c":16,"x":0.711,"y":-0.413},{"c":16,"x":0.669,"y":-0.324},{"c":16,"x":0.534,"y":-0.375},{"c":16,"x":0.615,"y":-0.439},
{"c":17,"x":0.399,"y":-0.686},{"c":17,"x":0.454,"y":-0.606},{"c":17,"x":0.509,"y":-0.686},{"c":17,"x":0.454,"y":-0.766},
{"c":18,"x":1.093,"y":-0.7},{"c":18,"x":1.148,"y":-0.67},{"c":18,"x":1.203,"y":-0.7},{"c":18,"x":1.148,"y":-0.73},
{"c":19,"x":-0.345,"y":2.144},{"c":19,"x":-0.405,"y":2.214},{"c":19,"x":-0.465,"y":2.144},{"c":19,"x":-0.405,"y":2.074},
{"c":20,"x":-0.673,"y":2.173},{"c":20,"x":-0.743,"y":2.228},{"c":20,"x":-0.813,"y":2.173},{"c":20,"x":-0.743,"y":2.118},
{"c":21,"x":-0.338,"y":1.798},{"c":21,"x":-0.511,"y":1.894},{"c":21,"x":-0.608,"y":1.96},{"c":21,"x":-0.656,"y":1.875},{"c":21,"x":-0.511,"y":1.769},
{"c":22,"x":-0.53,"y":1.9},{"c":22,"x":-0.56,"y":1.925},{"c":22,"x":-0.59,"y":1.9},{"c":22,"x":-0.56,"y":1.875},
{"c":23,"x":0,"y":1.385},{"c":23,"x":-0.125,"y":1.606},{"c":23,"x":-0.27,"y":1.683},{"c":23,"x":-0.32,"y":1.558},{"c":23,"x":-0.27,"y":1.385},{"c":23,"x":-0.077,"y":1.346},
{"c":24,"x":-0.077,"y":1.462},{"c":24,"x":-0.174,"y":1.51},{"c":24,"x":-0.222,"y":1.413},{"c":24,"x":-0.125,"y":1.413},
{"c":25,"x":-1.388,"y":1.644},{"c":25,"x":-1.438,"y":1.689},{"c":25,"x":-1.488,"y":1.644},{"c":25,"x":-1.438,"y":1.599},
{"c":26,"x":-1.265,"y":1.288},{"c":26,"x":-1.33,"y":1.338},{"c":26,"x":-1.395,"y":1.288},{"c":26,"x":-1.33,"y":1.238},
{"c":27,"x":-1.39,"y":1.029},{"c":27,"x":-1.505,"y":1.298},{"c":27,"x":-1.698,"y":1.317},{"c":27,"x":-1.737,"y":1.144},{"c":27,"x":-1.621,"y":0.913},{"c":27,"x":-1.476,"y":0.894},
{"c":28,"x":-1.447,"y":1.03},{"c":28,"x":-1.573,"y":1.24},{"c":28,"x":-1.621,"y":1.173},{"c":28,"x":-1.602,"y":0.952},{"c":28,"x":-1.505,"y":0.933},
{"c":29,"x":-1.485,"y":1.08},{"c":29,"x":-1.525,"y":1.14},{"c":29,"x":-1.565,"y":1.08},{"c":29,"x":-1.525,"y":1.02},
{"c":30,"x":-0.946,"y":0.596},{"c":30,"x":-1.139,"y":0.933},{"c":30,"x":-1.283,"y":0.837},{"c":30,"x":-1.38,"y":0.692},{"c":30,"x":-1.38,"y":0.548},{"c":30,"x":-1.139,"y":0.423},{"c":30,"x":-0.994,"y":0.452},
{"c":31,"x":-1.056,"y":0.558},{"c":31,"x":-1.106,"y":0.638},{"c":31,"x":-1.156,"y":0.558},{"c":31,"x":-1.106,"y":0.478},
{"c":32,"x":-1.238,"y":0.663},{"c":32,"x":-1.293,"y":0.713},{"c":32,"x":-1.348,"y":0.663},{"c":32,"x":-1.293,"y":0.613},
{"c":33,"x":1.245,"y":-0.875},{"c":33,"x":1.33,"y":-0.76},{"c":33,"x":1.415,"y":-0.875},{"c":33,"x":1.33,"y":-0.99},
{"c":34,"x":1.421,"y":-1.163},{"c":34,"x":1.486,"y":-1.123},{"c":34,"x":1.551,"y":-1.163},{"c":34,"x":1.486,"y":-1.203},
{"c":35,"x":0.933,"y":-1.173},{"c":35,"x":1.003,"y":-1.133},{"c":35,"x":1.073,"y":-1.173},{"c":35,"x":1.003,"y":-1.213},
{"c":36,"x":0.308,"y":-1.25},{"c":36,"x":0.338,"y":-1.19},{"c":36,"x":0.368,"y":-1.25},{"c":36,"x":0.338,"y":-1.31},
{"c":37,"x":-0.088,"y":-1.163},{"c":37,"x":-0.183,"y":-1.088},{"c":37,"x":-0.278,"y":-1.163},{"c":37,"x":-0.183,"y":-1.238},
{"c":38,"x":0.118,"y":-1.48},{"c":38,"x":0.058,"y":-1.43},{"c":38,"x":-0.002,"y":-1.48},{"c":38,"x":0.058,"y":-1.53},
{"c":39,"x":0.01,"y":-1.654},{"c":39,"x":-0.01,"y":-1.619},{"c":39,"x":-0.03,"y":-1.654},{"c":39,"x":-0.01,"y":-1.689},
{"c":40,"x":0.084,"y":-1.875},{"c":40,"x":0.174,"y":-1.785},{"c":40,"x":0.264,"y":-1.875},{"c":40,"x":0.174,"y":-1.965},
{"c":41,"x":0.144,"y":-1.875},{"c":41,"x":0.174,"y":-1.84},{"c":41,"x":0.204,"y":-1.875},{"c":41,"x":0.174,"y":-1.91},
{"c":42,"x":0.968,"y":-2.01},{"c":42,"x":1.013,"y":-1.93},{"c":42,"x":1.058,"y":-2.01},{"c":42,"x":1.013,"y":-2.09}]
},
"concat":[
{"width":570,"height":520,"encoding":{"x":{"field":"x","type":"quantitative","scale":{"domain":[2.75,-2.75],"nice":false,"zero":false},"axis":null},"y":{"field":"y","type":"quantitative","scale":{"domain":[-2.5,2.5],"nice":false,"zero":false},"axis":null}},
"resolve":{"axis":{"x":"independent","y":"independent"}},
"layer":[
{"data":{"name":"a"},"mark":{"type":"line","color":"black","strokeWidth":1.5,"interpolate":"cardinal-closed","tension":-0.25},"encoding":{"detail":{"field":"c"},"order":{"value":null},"x":{"field":"x","type":"quantitative","axis":{"orient":"top","values":[-2,-1,0,1,2],"tickSize":-10,"labels":false,"title":null}},"y":{"field":"y","type":"quantitative","axis":{"orient":"right","values":[-2,-1,0,1,2],"tickSize":-10,"labels":false,"title":null}}}},
{"data":{"name":"o"},"mark":{"type":"line","color":"#1212ea","strokeWidth":1.6},"encoding":{"detail":{"field":"c"},"order":{"value":null},"x":{"field":"x","type":"quantitative","axis":{"orient":"bottom","values":[-2,-1,0,1,2],"tickSize":-10,"labels":false,"title":null}},"y":{"field":"y","type":"quantitative","axis":{"orient":"left","values":[-2,-1,0,1,2],"tickSize":-10,"labelAngle":-90,"labelPadding":27,"title":"η (degrees)","titlePadding":6}}}},
{"data":{"name":"g"},"mark":{"type":"line","color":"#22ee22","strokeWidth":1.6},"encoding":{"detail":{"field":"c"},"order":{"value":null},"x":{"field":"x","type":"quantitative","axis":{"orient":"bottom","values":[-2.6,-2.4,-2.2,-1.8,-1.6,-1.4,-1.2,-0.8,-0.6,-0.4,-0.2,0.2,0.4,0.6,0.8,1.2,1.4,1.6,1.8,2.2,2.4,2.6],"tickSize":-5,"labels":false,"domain":false,"title":null}},"y":{"field":"y","type":"quantitative","axis":{"orient":"left","values":[-2.4,-2.2,-1.8,-1.6,-1.4,-1.2,-0.8,-0.6,-0.4,-0.2,0.2,0.4,0.6,0.8,1.2,1.4,1.6,1.8,2.2,2.4],"tickSize":-5,"labels":false,"domain":false,"title":null}}}},
{"data":{"name":"e"},"mark":{"type":"line","color":"#ee1111","strokeWidth":2.2,"interpolate":"cardinal-closed","tension":-0.1},"encoding":{"detail":{"field":"c"},"order":{"value":null},"x":{"field":"x","type":"quantitative","axis":{"orient":"top","values":[-2.6,-2.4,-2.2,-1.8,-1.6,-1.4,-1.2,-0.8,-0.6,-0.4,-0.2,0.2,0.4,0.6,0.8,1.2,1.4,1.6,1.8,2.2,2.4,2.6],"tickSize":-5,"labels":false,"domain":false,"title":null}},"y":{"field":"y","type":"quantitative","axis":{"orient":"right","values":[-2.4,-2.2,-1.8,-1.6,-1.4,-1.2,-0.8,-0.6,-0.4,-0.2,0.2,0.4,0.6,0.8,1.2,1.4,1.6,1.8,2.2,2.4],"tickSize":-5,"labels":false,"domain":false,"title":null}}}},
{"data":{"name":"r"},"mark":{"type":"point","shape":"circle","size":10816,"filled":false,"color":"#ee1111","strokeWidth":1.6,"opacity":1}},
{"data":{"values":[{"t":"All","x":2.41,"y":2.14}]},"mark":{"type":"text","align":"left","font":"DejaVu Serif","fontSize":18.5,"color":"black"},"encoding":{"text":{"field":"t"}}}
]},
{"width":564,"height":520,"encoding":{"x":{"field":"x","type":"quantitative","scale":{"domain":[2.75,-2.692],"nice":false,"zero":false},"axis":null},"y":{"field":"y","type":"quantitative","scale":{"domain":[-2.5,2.5],"nice":false,"zero":false},"axis":null}},
"resolve":{"axis":{"x":"independent","y":"independent"}},
"layer":[
{"data":{"name":"b"},"mark":{"type":"line","color":"black","strokeWidth":1.5,"interpolate":"cardinal-closed","tension":-0.25},"encoding":{"detail":{"field":"c"},"order":{"value":null},"x":{"field":"x","type":"quantitative","axis":{"orient":"top","values":[-2,-1,0,1,2],"tickSize":-10,"labels":false,"title":null}}}},
{"data":{"name":"o"},"mark":{"type":"line","color":"#1212ea","strokeWidth":1.6},"encoding":{"detail":{"field":"c"},"order":{"value":null},"x":{"field":"x","type":"quantitative","axis":{"orient":"bottom","values":[-2,-1,0,1,2],"tickSize":-10,"labels":false,"title":null}},"y":{"field":"y","type":"quantitative","axis":{"orient":"left","values":[-2,-1,0,1,2],"tickSize":-10,"labels":false,"title":null}}}},
{"data":{"name":"g"},"mark":{"type":"line","color":"#22ee22","strokeWidth":1.6},"encoding":{"detail":{"field":"c"},"order":{"value":null},"x":{"field":"x","type":"quantitative","axis":{"orient":"bottom","values":[-2.6,-2.4,-2.2,-1.8,-1.6,-1.4,-1.2,-0.8,-0.6,-0.4,-0.2,0.2,0.4,0.6,0.8,1.2,1.4,1.6,1.8,2.2,2.4,2.6],"tickSize":-5,"labels":false,"domain":false,"title":null}},"y":{"field":"y","type":"quantitative","axis":{"orient":"left","values":[-2.4,-2.2,-1.8,-1.6,-1.4,-1.2,-0.8,-0.6,-0.4,-0.2,0.2,0.4,0.6,0.8,1.2,1.4,1.6,1.8,2.2,2.4],"tickSize":-5,"labels":false,"domain":false,"title":null}}}},
{"data":{"name":"e"},"mark":{"type":"line","color":"#ee1111","strokeWidth":2.2,"interpolate":"cardinal-closed","tension":-0.1},"encoding":{"detail":{"field":"c"},"order":{"value":null},"x":{"field":"x","type":"quantitative","axis":{"orient":"top","values":[-2.6,-2.4,-2.2,-1.8,-1.6,-1.4,-1.2,-0.8,-0.6,-0.4,-0.2,0.2,0.4,0.6,0.8,1.2,1.4,1.6,1.8,2.2,2.4,2.6],"tickSize":-5,"labels":false,"domain":false,"title":null}}}},
{"data":{"values":[{"t":"Young","x":2.41,"y":2.14}]},"mark":{"type":"text","align":"left","font":"DejaVu Serif","fontSize":18.5,"color":"black"},"encoding":{"text":{"field":"t"}}}
]},
{"width":570,"height":520,"encoding":{"x":{"field":"x","type":"quantitative","scale":{"domain":[2.75,-2.75],"nice":false,"zero":false},"axis":null},"y":{"field":"y","type":"quantitative","scale":{"domain":[-2.5,2.5],"nice":false,"zero":false},"axis":null}},
"resolve":{"axis":{"x":"independent","y":"independent"}},
"layer":[
{"data":{"name":"c"},"mark":{"type":"line","color":"black","strokeWidth":1.5,"interpolate":"cardinal-closed","tension":-0.25},"encoding":{"detail":{"field":"c"},"order":{"value":null},"x":{"field":"x","type":"quantitative","axis":{"orient":"top","values":[-2,-1,0,1,2],"tickSize":-10,"labels":false,"title":null}},"y":{"field":"y","type":"quantitative","axis":{"orient":"right","values":[-2,-1,0,1,2],"tickSize":-10,"labels":false,"title":null}}}},
{"data":{"name":"o"},"mark":{"type":"line","color":"#1212ea","strokeWidth":1.6},"encoding":{"detail":{"field":"c"},"order":{"value":null},"x":{"field":"x","type":"quantitative","axis":{"orient":"bottom","values":[-2,-1,0,1,2],"tickSize":-10,"labelPadding":18,"title":"ξ (degrees)","titlePadding":20}},"y":{"field":"y","type":"quantitative","axis":{"orient":"left","values":[-2,-1,0,1,2],"tickSize":-10,"labelAngle":-90,"labelPadding":27,"title":"η (degrees)","titlePadding":6}}}},
{"data":{"name":"g"},"mark":{"type":"line","color":"#22ee22","strokeWidth":1.6},"encoding":{"detail":{"field":"c"},"order":{"value":null},"x":{"field":"x","type":"quantitative","axis":{"orient":"bottom","values":[-2.6,-2.4,-2.2,-1.8,-1.6,-1.4,-1.2,-0.8,-0.6,-0.4,-0.2,0.2,0.4,0.6,0.8,1.2,1.4,1.6,1.8,2.2,2.4,2.6],"tickSize":-5,"labels":false,"domain":false,"title":null}},"y":{"field":"y","type":"quantitative","axis":{"orient":"left","values":[-2.4,-2.2,-1.8,-1.6,-1.4,-1.2,-0.8,-0.6,-0.4,-0.2,0.2,0.4,0.6,0.8,1.2,1.4,1.6,1.8,2.2,2.4],"tickSize":-5,"labels":false,"domain":false,"title":null}}}},
{"data":{"name":"e"},"mark":{"type":"line","color":"#ee1111","strokeWidth":2.2,"interpolate":"cardinal-closed","tension":-0.1},"encoding":{"detail":{"field":"c"},"order":{"value":null},"x":{"field":"x","type":"quantitative","axis":{"orient":"top","values":[-2.6,-2.4,-2.2,-1.8,-1.6,-1.4,-1.2,-0.8,-0.6,-0.4,-0.2,0.2,0.4,0.6,0.8,1.2,1.4,1.6,1.8,2.2,2.4,2.6],"tickSize":-5,"labels":false,"domain":false,"title":null}},"y":{"field":"y","type":"quantitative","axis":{"orient":"right","values":[-2.4,-2.2,-1.8,-1.6,-1.4,-1.2,-0.8,-0.6,-0.4,-0.2,0.2,0.4,0.6,0.8,1.2,1.4,1.6,1.8,2.2,2.4],"tickSize":-5,"labels":false,"domain":false,"title":null}}}},
{"data":{"values":[{"t":"Intermediate","x":2.41,"y":2.14}]},"mark":{"type":"text","align":"left","font":"DejaVu Serif","fontSize":18.5,"color":"black"},"encoding":{"text":{"field":"t"}}}
]},
{"width":564,"height":520,"encoding":{"x":{"field":"x","type":"quantitative","scale":{"domain":[2.75,-2.692],"nice":false,"zero":false},"axis":null},"y":{"field":"y","type":"quantitative","scale":{"domain":[-2.5,2.5],"nice":false,"zero":false},"axis":null}},
"resolve":{"axis":{"x":"independent","y":"independent"}},
"layer":[
{"data":{"name":"d"},"mark":{"type":"line","color":"black","strokeWidth":1.5,"interpolate":"cardinal-closed","tension":-0.25},"encoding":{"detail":{"field":"c"},"order":{"value":null},"x":{"field":"x","type":"quantitative","axis":{"orient":"top","values":[-2,-1,0,1,2],"tickSize":-10,"labels":false,"title":null}}}},
{"data":{"name":"o"},"mark":{"type":"line","color":"#1212ea","strokeWidth":1.6},"encoding":{"detail":{"field":"c"},"order":{"value":null},"x":{"field":"x","type":"quantitative","axis":{"orient":"bottom","values":[-2,-1,0,1,2],"tickSize":-10,"labelPadding":18,"title":"ξ (degrees)","titlePadding":20}},"y":{"field":"y","type":"quantitative","axis":{"orient":"left","values":[-2,-1,0,1,2],"tickSize":-10,"labels":false,"title":null}}}},
{"data":{"name":"g"},"mark":{"type":"line","color":"#22ee22","strokeWidth":1.6},"encoding":{"detail":{"field":"c"},"order":{"value":null},"x":{"field":"x","type":"quantitative","axis":{"orient":"bottom","values":[-2.6,-2.4,-2.2,-1.8,-1.6,-1.4,-1.2,-0.8,-0.6,-0.4,-0.2,0.2,0.4,0.6,0.8,1.2,1.4,1.6,1.8,2.2,2.4,2.6],"tickSize":-5,"labels":false,"domain":false,"title":null}},"y":{"field":"y","type":"quantitative","axis":{"orient":"left","values":[-2.4,-2.2,-1.8,-1.6,-1.4,-1.2,-0.8,-0.6,-0.4,-0.2,0.2,0.4,0.6,0.8,1.2,1.4,1.6,1.8,2.2,2.4],"tickSize":-5,"labels":false,"domain":false,"title":null}}}},
{"data":{"name":"e"},"mark":{"type":"line","color":"#ee1111","strokeWidth":2.2,"interpolate":"cardinal-closed","tension":-0.1},"encoding":{"detail":{"field":"c"},"order":{"value":null},"x":{"field":"x","type":"quantitative","axis":{"orient":"top","values":[-2.6,-2.4,-2.2,-1.8,-1.6,-1.4,-1.2,-0.8,-0.6,-0.4,-0.2,0.2,0.4,0.6,0.8,1.2,1.4,1.6,1.8,2.2,2.4,2.6],"tickSize":-5,"labels":false,"domain":false,"title":null}}}},
{"data":{"values":[{"t":"Old","x":2.41,"y":2.14}]},"mark":{"type":"text","align":"left","font":"DejaVu Serif","fontSize":18.5,"color":"black"},"encoding":{"text":{"field":"t"}}}
]}
]}
